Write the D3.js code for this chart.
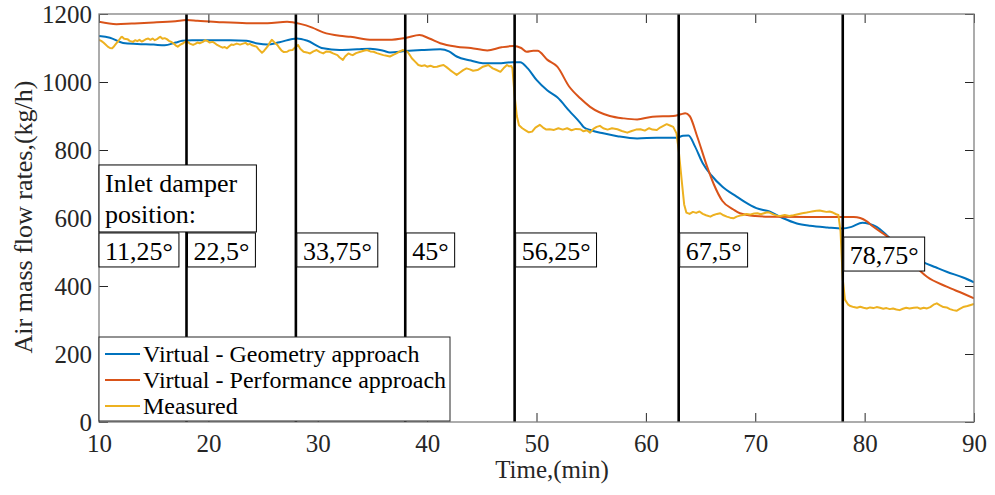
<!DOCTYPE html>
<html>
<head>
<meta charset="utf-8">
<script src="https://cdn.jsdelivr.net/npm/d3@7/dist/d3.min.js"></script>
<style>
  html, body { margin: 0; padding: 0; background: #fff; }
  svg { display: block; }
  svg text { font-family: "Liberation Serif", "Times New Roman", serif; }
</style>
</head>
<body>
<svg id="chart" width="995" height="495"></svg>
<script>
// Tick values
const xTicks = [10, 20, 30, 40, 50, 60, 70, 80, 90];
const yTicks = [0, 200, 400, 600, 800, 1000, 1200];

// Damper step times (min) and damper angle labels
const stepTimes = [18, 28, 38, 48, 63, 78];
const angleStarts = [10, 18, 28, 38, 48, 63, 78];
const angleLabels = ["11,25°", "22,5°", "33,75°", "45°", "56,25°", "67,5°", "78,75°"];

// Virtual - Geometry approach
const geoTime = [10, 11, 12.2, 13.5, 15, 16, 17, 17.6, 18.5, 20, 22, 23.5, 24.5, 25.4, 26.5, 28.1, 29, 30.5, 32, 33.6, 34.8, 36, 36.6, 38, 39.5, 41.2, 42, 42.7, 44, 45.1, 46.5, 47.8, 48.5, 49.2, 50, 51, 51.9, 53, 54, 54.3, 55, 56.1, 57.5, 59.2, 61, 62.8, 63.4, 63.9, 64.5, 65.2, 66, 67, 68.3, 69, 70.1, 71.3, 72.5, 73.8, 75, 76.6, 78, 78.8, 79.8, 80.4, 81.1, 82, 83, 84, 85.3, 86.5, 87.5, 89, 90];
const geoFlow = [1135, 1130, 1115, 1112, 1110, 1108, 1116, 1121, 1123, 1123, 1123, 1121, 1113, 1110, 1117, 1128, 1122, 1099, 1094, 1096, 1098, 1092, 1087, 1091, 1094, 1096, 1090, 1075, 1063, 1055, 1055, 1058, 1058, 1040, 1006, 975, 955, 915, 880, 868, 858, 849, 840, 834, 836, 836, 842, 843, 810, 761, 725, 692, 663, 648, 629, 619, 600, 584, 577, 572, 569, 574, 586, 583, 574, 550, 520, 495, 471, 455, 442, 425, 411];

// Virtual - Performance approach
const perfTime = [10, 11.6, 13, 15, 17, 18, 19, 21, 23.5, 25.4, 27.2, 28.4, 29.5, 30.5, 32, 33, 35, 36.5, 38.1, 39.3, 40.2, 41.2, 42.7, 44, 45.5, 46.8, 47.9, 48.6, 49.1, 49.7, 50.1, 51, 51.9, 53, 54, 54.9, 56.7, 58, 59.2, 60.6, 62.5, 63.2, 63.6, 64, 64.7, 65.6, 66.2, 67, 68, 68.6, 70, 71.3, 75, 79, 79.6, 80.2, 80.8, 82.3, 84, 85.7, 87.5, 89, 90];
const perfFlow = [1177, 1170, 1172, 1175, 1179, 1182, 1180, 1176, 1173, 1173, 1177, 1171, 1160, 1146, 1136, 1133, 1124, 1124, 1130, 1138, 1128, 1114, 1104, 1100, 1093, 1102, 1106, 1100, 1089, 1092, 1092, 1065, 1045, 986, 952, 927, 900, 893, 890, 898, 900, 905, 908, 900, 839, 751, 700, 650, 625, 614, 606, 604, 603, 603, 600, 590, 574, 540, 480, 427, 398, 378, 364];

// Measured
const measTime = [10, 10.2, 10.4, 10.6, 10.8, 11, 11.2, 11.4, 11.6, 11.8, 12, 12.1, 12.3, 12.6, 12.8, 13.1, 13.3, 13.5, 13.7, 13.9, 14.1, 14.3, 14.5, 14.7, 14.9, 15.1, 15.3, 15.5, 15.6, 15.8, 16, 16.2, 16.4, 16.6, 16.8, 17, 17.2, 17.4, 17.7, 17.9, 18.1, 18.3, 18.6, 18.8, 19, 19.2, 19.5, 19.7, 19.9, 20.1, 20.4, 20.6, 20.8, 21.1, 21.3, 21.5, 21.7, 21.9, 22.1, 22.3, 22.6, 22.9, 23.1, 23.4, 23.6, 23.8, 24, 24.2, 24.4, 24.6, 24.9, 25.1, 25.4, 25.6, 25.8, 26, 26.3, 26.5, 26.7, 26.9, 27.2, 27.4, 27.7, 27.9, 28.2, 28.4, 28.7, 29, 29.3, 29.6, 29.9, 30.2, 30.5, 30.8, 31.1, 31.4, 31.8, 32, 32.3, 32.5, 32.8, 33, 33.2, 33.5, 33.9, 34.2, 34.5, 34.8, 35.1, 35.4, 35.7, 36, 36.3, 36.6, 36.9, 37.2, 37.5, 37.8, 38, 38.2, 38.4, 38.6, 38.9, 39.2, 39.5, 39.8, 40, 40.3, 40.6, 40.9, 41.2, 41.5, 41.8, 42.1, 42.4, 42.7, 43, 43.3, 43.6, 43.9, 44.2, 44.6, 44.9, 45.1, 45.4, 45.6, 45.8, 46, 46.3, 46.7, 47, 47.3, 47.5, 47.7, 47.8, 48, 48.2, 48.4, 48.7, 49, 49.3, 49.6, 49.9, 50.3, 50.6, 50.9, 51.2, 51.6, 52, 52.4, 52.8, 53.2, 53.6, 54, 54.3, 54.6, 54.9, 55.2, 55.5, 55.8, 56.1, 56.5, 56.9, 57.4, 57.8, 58.3, 58.7, 59.1, 59.5, 59.9, 60.3, 60.6, 61, 61.3, 61.6, 61.9, 62.2, 62.5, 62.8, 63, 63.3, 63.5, 63.7, 64, 64.3, 64.6, 64.9, 65.2, 65.5, 65.9, 66.2, 66.5, 66.8, 67.1, 67.4, 67.7, 68, 68.3, 68.6, 68.9, 69.2, 69.5, 69.9, 70.2, 70.5, 70.8, 71.1, 71.3, 71.7, 72, 72.3, 72.7, 73.1, 73.5, 73.9, 74.3, 74.7, 75, 75.3, 75.6, 75.9, 76.2, 76.5, 76.8, 77.1, 77.4, 77.6, 77.8, 78, 78.2, 78.5, 78.7, 79, 79.3, 79.6, 79.9, 80.2, 80.5, 80.8, 81.1, 81.4, 81.7, 82, 82.3, 82.6, 82.9, 83.2, 83.5, 83.8, 84.1, 84.5, 84.8, 85.1, 85.4, 85.7, 86, 86.3, 86.6, 86.9, 87.2, 87.5, 87.8, 88.1, 88.4, 88.7, 89, 89.4, 89.7, 90];
const measFlow = [1124, 1121, 1116, 1110, 1104, 1100, 1099, 1106, 1114, 1122, 1131, 1133, 1127, 1126, 1121, 1118, 1123, 1120, 1124, 1119, 1122, 1126, 1128, 1124, 1128, 1123, 1126, 1131, 1133, 1127, 1129, 1126, 1121, 1118, 1114, 1108, 1104, 1109, 1114, 1119, 1118, 1113, 1109, 1112, 1116, 1114, 1118, 1123, 1121, 1116, 1118, 1114, 1109, 1104, 1101, 1103, 1099, 1105, 1110, 1109, 1113, 1110, 1112, 1115, 1110, 1112, 1108, 1106, 1104, 1096, 1086, 1092, 1104, 1115, 1124, 1118, 1109, 1100, 1092, 1088, 1089, 1093, 1094, 1101, 1109, 1098, 1089, 1087, 1084, 1090, 1094, 1088, 1084, 1090, 1089, 1084, 1079, 1072, 1065, 1075, 1084, 1081, 1079, 1085, 1089, 1092, 1094, 1090, 1089, 1085, 1082, 1079, 1077, 1075, 1080, 1084, 1090, 1094, 1091, 1089, 1080, 1070, 1060, 1050, 1047, 1049, 1045, 1048, 1044, 1045, 1048, 1050, 1043, 1035, 1028, 1021, 1028, 1035, 1040, 1037, 1033, 1035, 1041, 1045, 1048, 1050, 1045, 1040, 1036, 1030, 1041, 1050, 1046, 1047, 1040, 960, 900, 873, 864, 858, 852, 854, 866, 874, 866, 860, 861, 859, 864, 860, 864, 858, 862, 861, 855, 858, 851, 862, 868, 871, 864, 860, 864, 861, 856, 851, 856, 860, 861, 857, 864, 860, 859, 866, 871, 876, 872, 868, 849, 800, 703, 640, 616, 612, 618, 615, 619, 612, 608, 604, 609, 612, 614, 608, 604, 601, 599, 604, 607, 609, 612, 610, 613, 614, 611, 614, 617, 616, 610, 607, 606, 609, 606, 608, 611, 614, 616, 618, 620, 621, 622, 620, 618, 619, 616, 611, 609, 560, 420, 360, 345, 341, 338, 336, 339, 336, 334, 337, 335, 338, 336, 333, 335, 332, 334, 331, 329, 333, 336, 334, 336, 337, 333, 336, 334, 338, 345, 349, 343, 338, 337, 332, 329, 327, 333, 338, 341, 344, 347];

const seriesNames = ["Virtual - Geometry approach", "Virtual - Performance approach", "Measured"];
const seriesColors = ["#0072BD", "#D95319", "#EDB120"];

const FONT = "Liberation Serif";
const svg = d3.select("#chart");
const m = { left: 99, right: 974, top: 14, bottom: 422 };
const x = d3.scaleLinear().domain([10, 90]).range([m.left, m.right]);
const y = d3.scaleLinear().domain([0, 1200]).range([m.bottom, m.top]);

svg.append("defs").append("clipPath").attr("id", "plotClip")
  .append("rect").attr("x", m.left).attr("y", m.top)
  .attr("width", m.right - m.left).attr("height", m.bottom - m.top);

const zip = (ts, vs) => ts.map((t, i) => [t, vs[i]]);
const series = [zip(geoTime, geoFlow), zip(perfTime, perfFlow), zip(measTime, measFlow)];

const smooth = d3.line().x(d => x(d[0])).y(d => y(d[1])).curve(d3.curveMonotoneX);
const raw = d3.line().x(d => x(d[0])).y(d => y(d[1]));

const plot = svg.append("g").attr("clip-path", "url(#plotClip)");
series.forEach((s, i) => {
  plot.append("path").datum(s)
    .attr("d", i === 2 ? raw : smooth)
    .attr("fill", "none")
    .attr("stroke", seriesColors[i])
    .attr("stroke-width", 2)
    .attr("stroke-linejoin", "round");
});

// Damper step markers
plot.selectAll("line.step").data(stepTimes).join("line")
  .attr("class", "step")
  .attr("x1", d => x(d)).attr("x2", d => x(d))
  .attr("y1", m.top).attr("y2", m.bottom)
  .attr("stroke", "#000").attr("stroke-width", 2.6);

// Axes with inward ticks on all four sides
const axisColor = "#808080";
const labelColor = "#262626";
function styleAxis(g) {
  g.attr("font-family", FONT);
  g.select(".domain").remove();
  g.selectAll(".tick line").attr("stroke", labelColor).attr("stroke-width", 1);
  g.selectAll(".tick text").attr("fill", labelColor)
    .style("font-family", FONT).style("font-size", "25px");
}
svg.append("g").attr("transform", `translate(0,${m.bottom})`)
  .call(d3.axisBottom(x).tickValues(xTicks).tickSize(-9).tickPadding(0).tickFormat(d3.format("d")))
  .call(styleAxis)
  .call(g => g.selectAll(".tick text").attr("y", 30).attr("dy", 0));
svg.append("g").attr("transform", `translate(0,${m.top})`)
  .call(d3.axisTop(x).tickValues(xTicks).tickSize(-9).tickFormat(""))
  .call(styleAxis);
svg.append("g").attr("transform", `translate(${m.left},0)`)
  .call(d3.axisLeft(y).tickValues(yTicks).tickSize(-9).tickFormat(d3.format("d")))
  .call(styleAxis)
  .call(g => g.selectAll(".tick text").attr("x", -7).attr("dy", "0.33em"));
svg.append("g").attr("transform", `translate(${m.right},0)`)
  .call(d3.axisRight(y).tickValues(yTicks).tickSize(-9).tickFormat(""))
  .call(styleAxis);

svg.append("rect")
  .attr("x", m.left).attr("y", m.top)
  .attr("width", m.right - m.left).attr("height", m.bottom - m.top)
  .attr("fill", "none").attr("stroke", axisColor).attr("stroke-width", 1.3);

// Axis titles
svg.append("text")
  .attr("x", 552).attr("y", 478)
  .attr("text-anchor", "middle").attr("fill", labelColor)
  .style("font-family", FONT).style("font-size", "25px")
  .text("Time,(min)");
svg.append("text")
  .attr("transform", `translate(32,${217}) rotate(-90)`)
  .attr("text-anchor", "middle").attr("fill", labelColor)
  .style("font-family", FONT).style("font-size", "26px")
  .text("Air mass flow rates,(kg/h)");

// Annotation boxes
const notes = svg.append("g");
function labelBox(px, top, lines, minRight) {
  const g = notes.append("g");
  const rect = g.append("rect").attr("fill", "#fff").attr("stroke", "#000").attr("stroke-width", 1);
  const texts = lines.map((s, i) => g.append("text")
    .attr("x", px + 6).attr("y", top + 27 + i * 31).attr("fill", "#000")
    .style("font-family", FONT).style("font-size", "26px")
    .text(s));
  const w = d3.max(texts, t => t.node().getComputedTextLength());
  const right = Math.max(px + w + 12, minRight || 0);
  rect.attr("x", px).attr("y", top).attr("width", right - px).attr("height", 34 + (lines.length - 1) * 33);
  return right;
}
const stepBoxTop = y(556);
const boxRights = angleStarts.map((t, i) => {
  const top = i === angleStarts.length - 1 ? y(544) : stepBoxTop;
  return labelBox(x(t) + (i === 0 ? 0 : 1), top, [angleLabels[i]]);
});
labelBox(x(10), y(756), ["Inlet damper", "position:"], boxRights[1] + 1);

// Legend
const leg = svg.append("g");
leg.append("rect").attr("x", m.left).attr("y", 337).attr("width", 351).attr("height", 84)
  .attr("fill", "#fff").attr("stroke", labelColor).attr("stroke-width", 1);
seriesNames.forEach((name, i) => {
  const cy = 354 + i * 26;
  leg.append("line").attr("x1", 105).attr("x2", 140).attr("y1", cy).attr("y2", cy)
    .attr("stroke", seriesColors[i]).attr("stroke-width", 2);
  leg.append("text").attr("x", 143).attr("y", cy + 8).attr("fill", "#000")
    .style("font-family", FONT).style("font-size", "24px")
    .text(name);
});
</script>
</body>
</html>
